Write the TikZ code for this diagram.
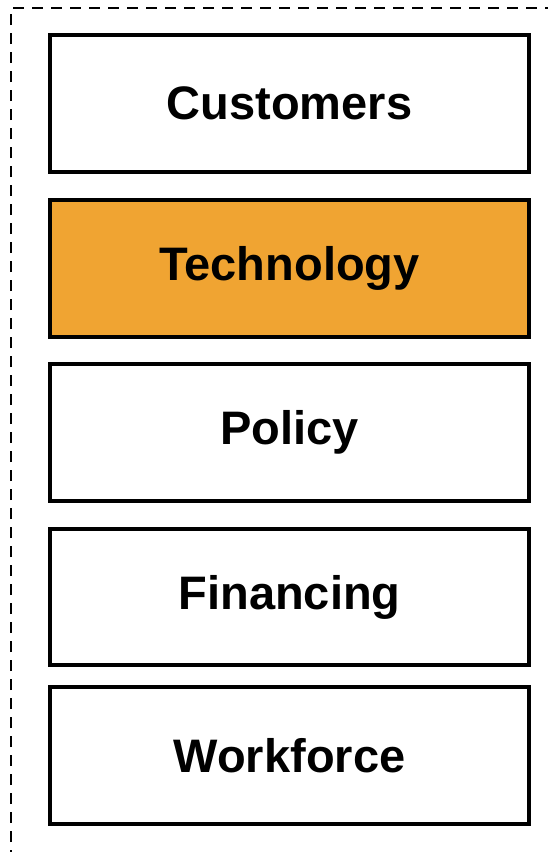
\documentclass[tikz,border=0pt]{standalone}
\usepackage{fontspec}
\setmainfont{Liberation Sans}
\usepackage{tikz}
\definecolor{techorange}{RGB}{240,164,50}

\tikzset{
  factor/.style={draw=black, line width=4pt, minimum width=479pt, minimum height=137pt,
    inner sep=0pt, font=\fontsize{47}{56}\selectfont\bfseries},
  frame/.style={draw=black, line width=2.8pt, dash pattern=on 11pt off 8pt}
}

\begin{document}
\begin{tikzpicture}
        \useasboundingbox (0pt,0pt) rectangle (548pt,-852pt);
        % Dashed frame, running off the page on the right and at the bottom
        \begin{scope}
          \clip (0pt,0pt) rectangle (548pt,-852pt);
          \draw[frame] (11pt,-880pt) -- (11pt,-8pt) -- (570pt,-8pt);
        \end{scope}

        % The five boxes
        \node[factor] (customers) at (289.5pt,-103.5pt) {Customers};
        \node[factor, fill=techorange] (technology) at (289.5pt,-268.5pt) {Technology};
        \node[factor] (policy) at (289.5pt,-432.5pt) {Policy};
        \node[factor, minimum height=136pt] (financing) at (289.5pt,-597pt) {Financing};
        \node[factor] (workforce) at (289.5pt,-755.5pt) {Workforce};
\end{tikzpicture}
\end{document}
